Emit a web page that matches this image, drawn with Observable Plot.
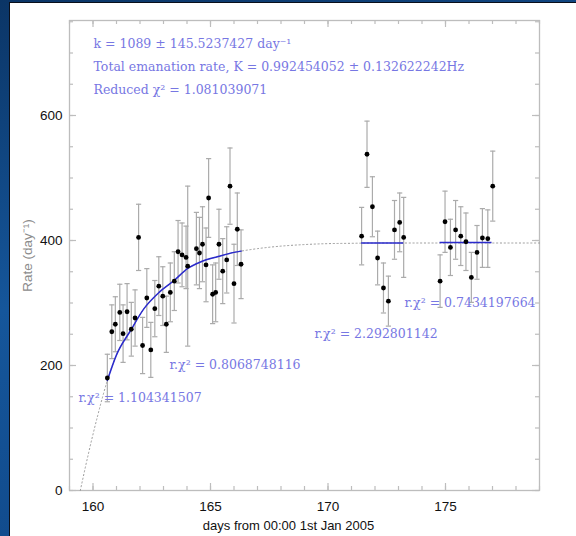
<!DOCTYPE html>
<html>
<head>
<meta charset="utf-8">
<script src="https://cdn.jsdelivr.net/npm/d3@7"></script>
<script src="https://cdn.jsdelivr.net/npm/@observablehq/plot@0.6"></script>
<style>
  html, body { margin: 0; padding: 0; background: #12467f; }
  #chart svg { display: block; }
</style>
</head>
<body>
<div id="chart"></div>
<script>
// ---- Measured count rates (day^-1) with 1-sigma errors ----
// Run 1: ingrowth after the source was sealed
const run1Days = [160.61, 160.80, 160.95, 161.14, 161.28, 161.45, 161.63, 161.79, 161.94, 162.11,
                  162.29, 162.46, 162.63, 162.80, 162.97, 163.12, 163.29, 163.46, 163.62, 163.79,
                  163.96, 164.03, 164.40, 164.53, 164.66, 164.81, 164.92, 165.09, 165.22, 165.36,
                  165.52, 165.69, 165.83, 166.00, 166.14, 166.30];
const run1Rate = [180, 254, 266, 285, 251, 286, 258, 276, 405, 232,
                  308, 225, 291, 327, 311, 266, 317, 335, 382, 377,
                  373, 359, 387, 380, 394, 361, 468, 314, 317, 394,
                  351, 369, 487, 331, 418, 362];
const run1Err  = [38, 43, 44, 45, 46, 45, 43, 45, 53, 45,
                  47, 44, 45, 47, 47, 45, 47, 47, 50, 51,
                  50, 128, 58, 57, 60, 59, 63, 47, 47, 56,
                  52, 53, 61, 63, 58, 55];

// Run 2: equilibrium
const run2Days = [171.43, 171.66, 171.89, 172.11, 172.36, 172.57, 172.83, 173.05, 173.22];
const run2Rate = [407, 538, 454, 372, 324, 303, 417, 429, 405];
const run2Err  = [46, 53, 48, 43, 40, 40, 47, 47, 64];

// Run 3: equilibrium
const run3Days = [174.77, 174.98, 175.21, 175.43, 175.65, 175.87, 176.10, 176.34, 176.57, 176.80, 177.01];
const run3Rate = [335, 430, 389, 417, 407, 398, 341, 381, 404, 403, 487];
const run3Err  = [42, 49, 45, 47, 47, 46, 40, 43, 47, 46, 56];

// Fitted ingrowth curve, sampled along the time axis
const curveDays = [159.46, 159.8, 160.2, 160.61, 161.0, 161.6, 162.17, 162.81, 163.45, 164.02,
                   164.6, 165.29, 166.0, 166.3, 167, 168, 169, 170, 171, 172, 174, 176, 179];
const curveRate = [0, 58, 120, 176, 217, 256, 291, 317, 336, 355,
                   366, 374, 381, 383, 387, 391, 393.5, 395, 395.5, 396, 396, 396, 396];

// Constant-rate fits to the equilibrium runs
const plateauStart = [171.43, 174.77];
const plateauEnd   = [173.22, 176.98];
const plateauRate  = [396, 397];

// Fit results
const noteLines = [
  "k = 1089 \u00b1 145.5237427 day\u207b\u00b9",
  "Total emanation rate, K = 0.992454052 \u00b1 0.132622242Hz",
  "Reduced \u03c7\u00b2 = 1.081039071"
];
const runChi2 = ["1.104341507", "0.8068748116", "2.292801142", "0.7434197664"];

// Axis labelling
const xTickLabels = [160, 165, 170, 175];
const yTickLabels = [0, 200, 400, 600];
const xTitle = "days from 00:00 1st Jan 2005";
const yTitle = "Rate (day\u207b\u00b9)";

// ---- Layout ----
const W = 576, H = 536;
const M = {top: 20, right: 37, bottom: 46, left: 69};
const FW = W - M.left - M.right, FH = H - M.top - M.bottom;
const noteLayout = [{dy: 23.5, len: 197}, {dy: 46.5, len: 372}, {dy: 69, len: 170}];
const chiLayout = [
  {dx: 9,   dy: 377, len: 121},
  {dx: 100, dy: 344, len: 128},
  {dx: 245, dy: 313, len: 121},
  {dx: 335, dy: 282, len: 129}
];

const INK = "#7777e3", FIT = "#2a2acc", BAR = "#ababab", AXIS = "#bdbdbd";
const serif = "DejaVu Serif", sans = "Liberation Sans";

const toPoints = (days, rate, err) => days.map((d, i) => ({day: d, rate: rate[i], err: err[i]}));
const points = [
  ...toPoints(run1Days, run1Rate, run1Err),
  ...toPoints(run2Days, run2Rate, run2Err),
  ...toPoints(run3Days, run3Rate, run3Err)
];
const curve = curveDays.map((d, i) => ({day: d, rate: curveRate[i]}));
const ingrowth = curve.filter(p => p.day >= run1Days[0] && p.day <= run1Days[run1Days.length - 1]);
const plateaus = plateauStart.map((s, i) => ({start: s, end: plateauEnd[i], rate: plateauRate[i]}));

const xMinor = d3.range(159, 180, 1);
const yMinor = d3.range(0, 751, 50);

// horizontal cap for the error bars
const capSymbol = {
  draw(context, size) {
    const r = Math.sqrt(size / Math.PI);
    context.moveTo(-r, 0);
    context.lineTo(r, 0);
  }
};

const tick = (len) => [
  Plot.tickX(xMinor, {x: d => d, insetTop: FH - len, stroke: AXIS, strokeWidth: 1.2}),
  Plot.tickX(xMinor, {x: d => d, insetBottom: FH - len, stroke: AXIS, strokeWidth: 1.2}),
  Plot.tickY(yMinor, {y: d => d, insetRight: FW - len, stroke: AXIS, strokeWidth: 1.2}),
  Plot.tickY(yMinor, {y: d => d, insetLeft: FW - len, stroke: AXIS, strokeWidth: 1.2})
];
const majorTick = (len) => [
  Plot.tickX(xTickLabels, {x: d => d, insetTop: FH - len, stroke: AXIS, strokeWidth: 1.2}),
  Plot.tickX(xTickLabels, {x: d => d, insetBottom: FH - len, stroke: AXIS, strokeWidth: 1.2}),
  Plot.tickY(yTickLabels, {y: d => d, insetRight: FW - len, stroke: AXIS, strokeWidth: 1.2}),
  Plot.tickY(yTickLabels, {y: d => d, insetLeft: FW - len, stroke: AXIS, strokeWidth: 1.2})
];

const chart = Plot.plot({
  width: W,
  height: H,
  marginTop: M.top,
  marginRight: M.right,
  marginBottom: M.bottom,
  marginLeft: M.left,
  x: {domain: [159, 179], axis: null},
  y: {domain: [0, 752], axis: null},
  marks: [
    Plot.frame({stroke: AXIS, strokeWidth: 1.3}),
    ...tick(4),
    ...majorTick(7),
    // model curve
    Plot.line(curve, {x: "day", y: "rate", curve: "monotone-x", stroke: "#9a9a9a",
                      strokeWidth: 1, strokeDasharray: "1.2,2.6"}),
    // error bars
    Plot.ruleX(points, {x: "day", y1: d => d.rate - d.err, y2: d => d.rate + d.err,
                        stroke: BAR, strokeWidth: 1.2}),
    Plot.dot(points, {x: "day", y: d => d.rate + d.err, symbol: capSymbol, r: 2.6,
                      stroke: BAR, strokeWidth: 1.2, fill: "none"}),
    Plot.dot(points, {x: "day", y: d => d.rate - d.err, symbol: capSymbol, r: 2.6,
                      stroke: BAR, strokeWidth: 1.2, fill: "none"}),
    // fits
    Plot.line(ingrowth, {x: "day", y: "rate", curve: "monotone-x", stroke: FIT, strokeWidth: 1.5}),
    Plot.ruleY(plateaus, {y: "rate", x1: "start", x2: "end", stroke: FIT, strokeWidth: 1.5}),
    // data
    Plot.dot(points, {x: "day", y: "rate", r: 2.4, fill: "#000"}),
    // tick labels
    Plot.text(xTickLabels, {x: d => d, frameAnchor: "bottom", dy: 16, textAnchor: "middle",
                            lineAnchor: "middle", fontSize: 13.5, fontFamily: sans, fill: "#111"}),
    Plot.text(yTickLabels, {y: d => d, frameAnchor: "left", dx: -7, textAnchor: "end",
                            lineAnchor: "middle", fontSize: 13.5, fontFamily: sans, fill: "#111"}),
    // axis titles
    Plot.text([xTitle], {frameAnchor: "bottom", dx: -16, dy: 35, textAnchor: "middle",
                         lineAnchor: "middle", fontSize: 13, fontFamily: sans, fill: "#111"}),
    Plot.text([yTitle], {frameAnchor: "left", dx: -42, rotate: -90, textAnchor: "middle",
                         lineAnchor: "middle", fontSize: 13.5, fontFamily: sans, fill: "#8c8c8c"}),
    // fit notes
    ...noteLines.map((line, i) => Plot.text([line], {
      frameAnchor: "top-left", dx: 24, dy: noteLayout[i].dy, textAnchor: "start",
      lineAnchor: "middle", fontSize: 12.5, fontFamily: serif, fill: INK, ariaLabel: `note-${i}`
    })),
    ...runChi2.map((v, i) => Plot.text([`r.\u03c7\u00b2 = ${v}`], {
      frameAnchor: "top-left", dx: chiLayout[i].dx, dy: chiLayout[i].dy, textAnchor: "start",
      lineAnchor: "middle", fontSize: 12.5, fontFamily: serif, fill: INK, ariaLabel: `chi-${i}`
    }))
  ]
});

// pin the annotation widths
noteLayout.forEach((l, i) => {
  const t = chart.querySelector(`g[aria-label="note-${i}"] text`);
  if (t) { t.setAttribute("textLength", l.len); t.setAttribute("lengthAdjust", "spacingAndGlyphs"); }
});
chiLayout.forEach((l, i) => {
  const t = chart.querySelector(`g[aria-label="chi-${i}"] text`);
  if (t) { t.setAttribute("textLength", l.len); t.setAttribute("lengthAdjust", "spacingAndGlyphs"); }
});

// blue slide backdrop with a white card
chart.style.background =
  "linear-gradient(#ffffff, #ffffff) 10px 3px / 566px 533px no-repeat," +
  "linear-gradient(#0a0f1a, #0a0f1a) 9px 2px / 567px 534px no-repeat," +
  "linear-gradient(165deg, #0b3566 0%, #15569b 45%, #0f4585 100%)";

document.getElementById("chart").appendChild(chart);
</script>
</body>
</html>
